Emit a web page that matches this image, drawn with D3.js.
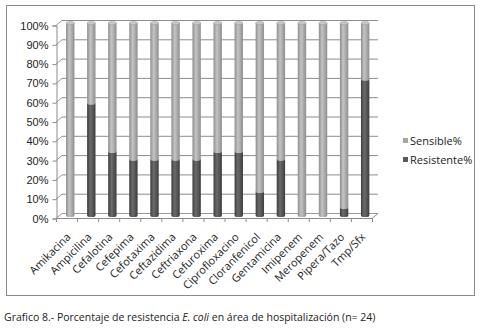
<!DOCTYPE html>
<html>
<head>
<meta charset="utf-8">
<script src="https://cdn.jsdelivr.net/npm/d3@7"></script>
<style>
  html, body { margin: 0; padding: 0; background: #fff; }
  svg { display: block; font-family: "Open Sans", "Liberation Sans", sans-serif; }
</style>
</head>
<body>
<svg id="chart" width="481" height="332"></svg>
<script>
// Antibiotics tested
const categories = ["Amikacina", "Ampicilina", "Cefalotina", "Cefepima", "Cefotaxima",
  "Ceftazidima", "Ceftriaxona", "Cefuroxima", "Ciprofloxacino", "Cloranfenicol",
  "Gentamicina", "Imipenem", "Meropenem", "Pipera/Tazo", "Tmp/Sfx"];
// Percentage of resistant / sensitive isolates (n = 24)
const resistente = [0, 58.3, 33.3, 29.2, 29.2, 29.2, 29.2, 33.3, 33.3, 12.5, 29.2, 0, 0, 4.2, 70.8];
const sensible   = [100, 41.7, 66.7, 70.8, 70.8, 70.8, 70.8, 66.7, 66.7, 87.5, 70.8, 100, 100, 95.8, 29.2];
const seriesNames = ["Resistente%", "Sensible%"];
const yTicks = [0, 10, 20, 30, 40, 50, 60, 70, 80, 90, 100];
const caption = "Grafico  8.- Porcentaje de resistencia ";
const captionItalic = "E. coli";
const captionEnd = " en área de hospitalización (n= 24)";

const svg = d3.select("#chart");

// gradients for the cylinders
const defs = svg.append("defs");
function cylGrad(id, edge, mid) {
  const g = defs.append("linearGradient").attr("id", id).attr("x1", 0).attr("x2", 1).attr("y1", 0).attr("y2", 0);
  g.append("stop").attr("offset", "0%").attr("stop-color", edge);
  g.append("stop").attr("offset", "40%").attr("stop-color", mid);
  g.append("stop").attr("offset", "100%").attr("stop-color", edge);
}
cylGrad("gR", "#3e3e3e", "#6b6b6b");
cylGrad("gS", "#8e8e8e", "#c4c4c4");

// outer frame
svg.append("rect").attr("x", 6.5).attr("y", 5.5).attr("width", 468).attr("height", 290)
  .attr("fill", "#fff").attr("stroke", "#8a8a8a").attr("stroke-width", 1);

// scales: front axis, back wall, and bar (mid-depth) positions
const depthX = 6, depthY = 5;
const x = d3.scaleBand().domain(categories).range([56, 372]);
const yFront = d3.scaleLinear().domain([0, 100]).range([218, 25]);
const yBack = d3.scaleLinear().domain([0, 100]).range([218 - depthY, 25 - depthY]);
const yBar = d3.scaleLinear().domain([0, 100]).range([215.5, 23]);

// back-wall gridlines with their perspective side segments
const grid = svg.append("g");
yTicks.forEach(t => {
  grid.append("line").attr("x1", 56 + depthX).attr("x2", 372 + depthX)
    .attr("y1", yBack(t) + 0.5).attr("y2", yBack(t) + 0.5)
    .attr("stroke", t === 0 ? "#9a9a9a" : "#8c8c8c").attr("stroke-width", 1);
  grid.append("line").attr("x1", 56).attr("x2", 56 + depthX)
    .attr("y1", yFront(t) + 0.5).attr("y2", yBack(t) + 0.5)
    .attr("stroke", "#9a9a9a").attr("stroke-width", 1);
});
// floor front edge and right side
grid.append("line").attr("x1", 56).attr("x2", 372).attr("y1", yFront(0) + 0.5).attr("y2", yFront(0) + 0.5)
  .attr("stroke", "#8c8c8c");
grid.append("line").attr("x1", 372).attr("x2", 372 + depthX).attr("y1", yFront(0) + 0.5).attr("y2", yBack(0) + 0.5)
  .attr("stroke", "#8c8c8c");

// y axis
const yAxis = d3.axisLeft(yFront).tickValues(yTicks).tickFormat(d => d + "%").tickSize(4).tickPadding(4);
const yg = svg.append("g").attr("transform", "translate(56.5,0.5)").call(yAxis);
yg.select(".domain").attr("stroke", "#8c8c8c");
yg.selectAll(".tick line").attr("stroke", "#8c8c8c");
yg.selectAll("text").attr("font-size", 11).attr("fill", "#222");

// x axis ticks and rotated labels
const xg = svg.append("g");
const bounds = categories.map(c => x(c)).concat([x.range()[1]]);
bounds.forEach(b => {
  xg.append("line").attr("x1", b + 0.5).attr("x2", b + 0.5).attr("y1", yFront(0)).attr("y2", yFront(0) + 4)
    .attr("stroke", "#8c8c8c");
});
categories.forEach(c => {
  const cx = x(c) + x.bandwidth() / 2;
  xg.append("text").attr("transform", `translate(${cx + 2},${yFront(0) + 17}) rotate(-45)`)
    .attr("text-anchor", "end").attr("font-size", 11).attr("fill", "#222").attr("dy", "0.35em")
    .text(c);
});

// stacked cylinders
const rows = categories.map((c, i) => ({ cat: c, "Resistente%": resistente[i], "Sensible%": sensible[i] }));
const stacked = d3.stack().keys(seriesNames)(rows);
const barW = 8.4, ry = 1.6;
const fills = { "Resistente%": "url(#gR)", "Sensible%": "url(#gS)" };
const topFill = "#c8c8c8";
const cx = c => x(c) + x.bandwidth() / 2 + 3.7;

stacked.forEach(layer => {
  const key = layer.key;
  svg.append("g").selectAll("path").data(layer.filter(d => d[1] - d[0] > 0)).join("path")
    .attr("fill", fills[key])
    .attr("d", d => {
      const x0 = cx(d.data.cat) - barW / 2, x1 = x0 + barW;
      const yt = yBar(d[1]), yb = yBar(d[0]);
      return `M${x0},${yt} L${x0},${yb} A${barW / 2},${ry} 0 0 0 ${x1},${yb} L${x1},${yt} Z`;
    });
});
// cylinder tops
const topLayer = stacked[stacked.length - 1];
svg.append("g").selectAll("ellipse").data(topLayer).join("ellipse")
  .attr("cx", d => cx(d.data.cat)).attr("cy", d => yBar(d[1]))
  .attr("rx", barW / 2).attr("ry", ry)
  .attr("fill", topFill).attr("stroke", "#9a9a9a").attr("stroke-width", 0.5);

// legend
const legend = svg.append("g");
[["Sensible%", "#a6a6a6", 141], ["Resistente%", "#595959", 160]].forEach(([name, col, yy]) => {
  legend.append("rect").attr("x", 403).attr("y", yy - 3).attr("width", 5).attr("height", 5).attr("fill", col);
  legend.append("text").attr("x", 410).attr("y", yy).attr("dy", "0.35em")
    .attr("font-size", 11).attr("fill", "#222").text(name);
});

// caption below the frame
const cap = svg.append("text").attr("x", 4).attr("y", 317).attr("dy", "0.35em")
  .attr("font-size", 10.5).attr("fill", "#222");
cap.append("tspan").text(caption);
cap.append("tspan").attr("font-style", "italic").text(captionItalic);
cap.append("tspan").text(captionEnd);
</script>
</body>
</html>
